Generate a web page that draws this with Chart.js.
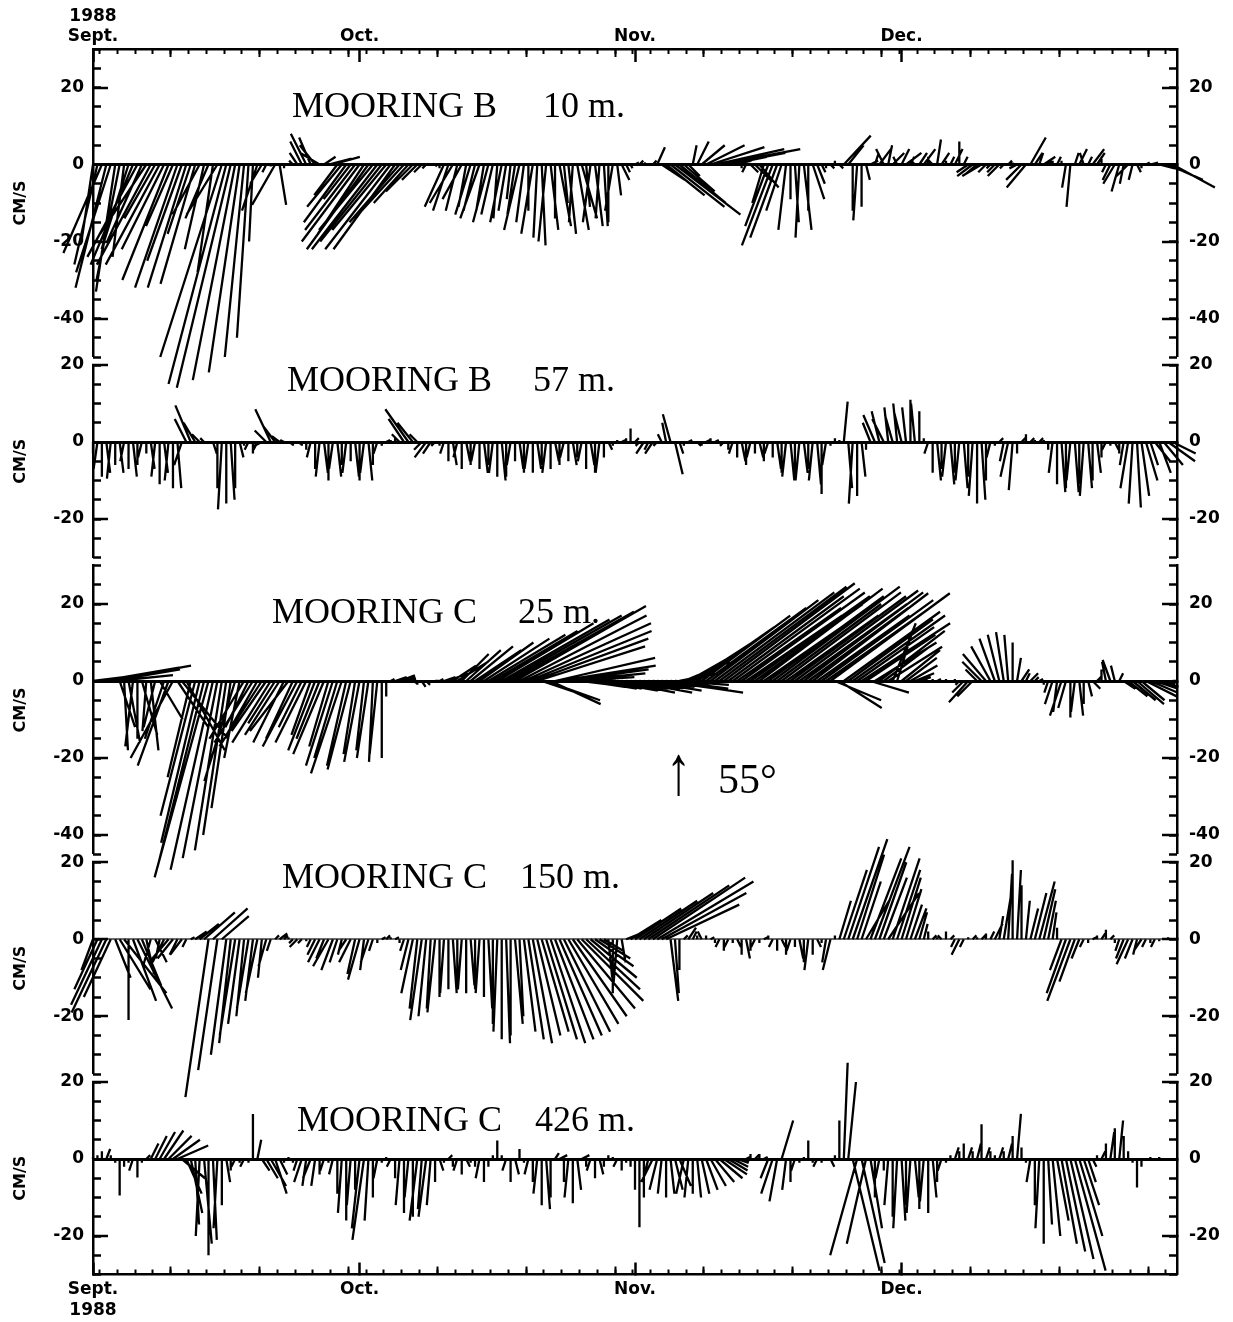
<!DOCTYPE html>
<html>
<head>
<meta charset="utf-8">
<script src="https://cdn.jsdelivr.net/npm/chart.js@4.4.1/dist/chart.umd.min.js"></script>
<style>
  html, body { margin: 0; padding: 0; background: #fff; }
  #wrap { position: relative; width: 1233px; height: 1322px; background: #fff; }
  #wrap canvas { position: absolute; left: 0; top: 0; }
</style>
</head>
<body>
<div id="wrap"></div>
<script>
// ---------------------------------------------------------------------------
// Current-meter stick plots, Sept.-Dec. 1988 (axes rotated so "up" = 55 deg).
// Each pair is [u, v] in cm/s, one stick every SAMPLE_STEP days from 1 Sept.
// ---------------------------------------------------------------------------
const SAMPLE_STEP = 0.5;
const DAY_SPAN = 122;                       // 1 Sept. -> 1 Jan.
const MONTH_DAYS = [0, 30, 61, 91];
const MONTH_LABELS_TOP = [['1988', 'Sept.'], 'Oct.', 'Nov.', 'Dec.'];
const MONTH_LABELS_BOTTOM = [['Sept.', '1988'], 'Oct.', 'Nov.', 'Dec.'];

const STATIONS = ['MOORING B', 'MOORING B', 'MOORING C', 'MOORING C', 'MOORING C'];
const DEPTHS = ['10 m.', '57 m.', '25 m.', '150 m.', '426 m.'];
const Y_MIN = [-50, -30, -45, -35, -30];
const Y_MAX = [30, 20, 30, 20, 20];
const Y_TICKS = [[20, 0, -20, -40], [20, 0, -20], [20, 0, -20, -40], [20, 0, -20], [20, 0, -20]];

const B_10M = [
  [-3,-20],[-6,-26],[-10,-23],[-8,-32],[-9,-28],[-5,-33],[-6,-30],[-3,-24],[-7,-22],[-11,-26],
  [-13,-24],[-9,-20],[-12,-18],[-14,-26],[-8,-14],[-14,-26],[-11,-22],[-12,-30],[-7,-16],[-11,-32],
  [-9,-25],[-10,-32],[-6,-18],[-9,-31],[-7,-13],[-5,-22],[-6,-14],[-4,-28],[-8,-13],[-16,-50],
  [-15,-57],[-14,-58],[-11,-56],[-8,-54],[-5,-50],[-3,-45],[-1,-20],[-4,-12],[-3,-5],[-1,-2],
  [0,-0.5],[-6,-10.5],[1.7,-10.5],[0,-1],[1,0],[-1,1],[-2,3],[-3,6],[-4,8],[-3,7],
  [-4,5],[-5,3],[3,2],[6,1.5],[7,2],[-6,-8],[-9,-11],[-11,-15],[-7,-9],[-13,-17],
  [-15,-20],[-12,-18],[-16,-22],[-14,-17],[-17,-22],[-16,-20],[-14,-17],[-17,-22],[-16,-22],[-13,-15],
  [-11,-12],[-9,-10],[-7,-7],[-4,-4],[-2,-2],[-1,-1],[0,0],[0.5,-0.5],[0,-1],[-5,-11],
  [-4,-12],[-6,-10],[-3,-12],[-5,-9],[-2,-11],[-4,-13],[-3,-12],[-5,-14],[-2,-12],[-4,-15],
  [-3,-13],[-1,-14],[-3,-15],[-2,-12],[-1,-9],[-2,-13],[-4,-17],[-2,-15],[0,-12],[-3,-18],
  [-1,-19],[1,-21],[-2,-20],[2,-17],[0,-14],[3,-16],[1,-10],[2,-18],[-1,-15],[3,-17],
  [4,-14],[1,-11],[-2,-15],[2,-16],[-1,-14],[1,-16],[0,-15],[-2,-12],[1,-8],[2,-4],
  [1,-2],[0.5,-1],[1,0.5],[1,1],[0.5,0.5],[0,0],[1,1],[2,4.5],[6,-4],[10,-8],
  [14,-11],[17,-13],[12,-10],[8,-7],[3,-3],[1,5],[3,6],[6,5],[10,5],[14,4.5],
  [18,4],[21,4],[16,3],[10,2],[5,1],[2,0.5],[0,-1],[-1,-2],[2,-2],[4,-4],
  [5,-6],[-3,-10],[-6,-16],[-8,-21],[-7,-19],[-4,-12],[-2,-17],[0,-9],[1,-15],[-1,-19],
  [2,-17],[0,-12],[3,-9],[2,-5],[1,-2],[0,-1],[1,-1],[0,1],[1,-1],[7,7.5],
  [4,5],[0,-12],[-1,-14.5],[0,-11],[1,-4],[2,1],[1,3],[3,4],[-2,4],[1,5],
  [3,3],[-1,2],[2,4],[4,3],[1,2],[-1,1],[2,3],[3,4],[0,2],[-1,1],
  [1,6.5],[2,3],[0,1],[1,2],[2,4],[0,6],[1,2],[-3,-2],[-4,-3],[-3,-2.5],
  [-5,-3],[-2,-2],[-1,-1],[-2,-2],[-3,-3],[-1,-1],[1,1],[0,0.5],[-2,-1],[-4,-4],
  [-5,-6],[4,7],[2,3],[1,3],[3,2],[1,1],[0,1],[1,2],[0,1],[-1,-6],
  [-1,-11],[1,3],[2,4],[-1,3],[1,2],[3,4],[2,3],[0,2],[-1,-2],[-2,-4],
  [-3,-5],[-2,-7],[-1,-5],[-3,-3],[-1,-4],[1,-2],[0,-1],[1,0.5],[2,0.5],[1,0],
  [4,-1],[6,-2],[9,-4],[11,-6]
];

const B_57M = [
  [0,-3],[-1,-7],[0,-9],[1,-8],[-1,-9.5],[0,-6],[1,-8],[-1,-5],[0,-7],[1,-9],
  [0,-6],[-1,-4],[0,-3],[1,-7],[-1,-9],[0,-11],[1,-8],[-1,-10],[0,-12],[1,-12],
  [-2,-6],[-3,6],[-4,9.5],[-3,5],[-2,2],[-1,1],[0,-0.5],[1,-3],[0,-12],[-1,-17.5],
  [0,-16],[1,-15],[0,-12],[1,-4],[0,-1],[-1,-2],[0,-3],[-1,-2],[-2,-1],[-3,3],
  [-4,8.5],[-3,4],[-2,1.5],[-1,0.5],[1,-0.5],[0,-1],[1,-0.5],[0,-1],[0,-2],[-1,-4],
  [0,-7],[-1,-9],[1,-8],[0,-10],[-1,-7],[1,-9],[0,-6],[-1,-8],[0,-5],[1,-9],
  [0,-10],[-1,-8],[1,-10],[0,-6],[-1,-3],[0,-1],[1,0.5],[0,0.5],[0,1],[-2,2],
  [-4,6],[-6,8.5],[-4,5],[-2,2],[-2,-2],[-3,-4],[-2,-3],[-1,-1],[0,-1],[-1,-3],
  [0,-5],[1,-6],[-1,-4],[0,-7],[1,-5],[0,-6],[-1,-5],[0,-7],[1,-8],[0,-6],
  [-1,-8],[0,-9],[1,-10],[0,-9],[-1,-6],[0,-5],[1,-7],[0,-8],[-1,-7],[0,-8],
  [1,-7],[0,-6],[-1,-8],[0,-7],[1,-5],[0,-6],[-1,-4],[0,-5],[1,-6],[0,-4],
  [-1,-5],[0,-7],[1,-6],[0,-8],[-1,-8],[0,-4],[1,-2],[0,-1],[0,0.5],[1,0.5],
  [0,1],[0,3.5],[1,1],[-1,-1],[-2,-3],[-1,-2],[-2,-3],[-1,-1],[-1,2],[-1,5],
  [-2,7.2],[2,-8.4],[1,-3],[0,-1],[1,0.5],[0,-0.5],[1,-1],[0,-1],[1,0.5],[0,1],
  [1,0.5],[0,-0.5],[-1,-1],[0,-2],[-1,-3],[0,-4],[1,-5],[0,-6],[-1,-4],[0,-3],
  [1,-4],[0,-5],[-1,-3],[0,-4],[1,-7],[0,-8],[-1,-9],[1,-10],[0,-9],[-1,-10],
  [1,-8],[0,-7],[-1,-10],[1,-11],[0,-13.5],[-1,-6],[0,-1],[0,1],[0,0.5],[1,10.5],
  [1,-12],[-1,-16],[0,-14],[1,-9],[0,-2],[-2,5],[-3,7],[-2,8],[-3,6],[-1,9],
  [-2,7],[-1,10],[-2,8],[-1,9],[0,11],[-1,10],[0,8],[0,1],[-1,-3],[0,-8],
  [1,-10],[0,-7],[-1,-9],[1,-11],[0,-8],[-1,-10],[1,-12],[0,-9],[-1,-14],[0,-16],
  [1,-15],[0,-10],[-1,-4],[0,-1],[1,1],[-1,-5],[-2,-9],[-1,-12.5],[0,-3],[1,1],
  [0,2],[1,1],[0,0.5],[1,1],[0,0.5],[0,-2],[-1,-8],[0,-11],[1,-13],[0,-12],
  [-1,-10],[1,-13],[0,-11],[-1,-14],[1,-12],[0,-10],[1,-8],[0,-4],[-1,-2],[0,-1],
  [1,-2],[0,-3],[-1,-6],[-2,-12],[-1,-16],[1,-17],[2,-14],[3,-10],[2,-6],[4,-5],
  [3,-8],[5,-6],[7,-5],[6,-3]
];

const C_25M = [
  [8,1],[14,2],[20,3.5],[22,4],[18,3],[15,1.5],[4,-12],[1,-18],[3,-16],[-2,-17],
  [0,-15],[4,-14],[-1,-13],[2,-18],[-3,-12],[6,-10],[-5,-15],[-8,-22],[-11,-20],[8,-12],
  [12,-15],[10,-18],[-6,-25],[-9,-35],[-10,-42],[-12,-48],[-14,-51],[-11,-49],[-9,-46],[-7,-44],
  [-6,-40],[-5,-33],[-8,-26],[-4,-20],[-9,-15],[-6,-12],[-10,-16],[-8,-14],[-11,-17],[-9,-13],
  [-10,-16],[-7,-11],[-9,-14],[-8,-16],[-10,-13],[-7,-15],[-9,-17],[-6,-12],[-8,-16],[-5,-14],
  [-7,-18],[-6,-15],[-8,-19],[-5,-17],[-7,-22],[-6,-20],[-8,-24],[-5,-22],[-6,-23],[-3,-19],
  [-4,-21],[-2,-18],[-3,-20],[-1,-21],[-2,-19],[0,-20],[0,-4],[1,0.5],[3,1],[4,1.5],
  [3,1],[2,0.5],[1,-0.5],[0,-1],[1,-1.5],[1,-1],[0,-0.5],[1,0],[1,0.5],[3,1],
  [5,2],[6,4],[8,5],[7,7],[9,8],[11,9],[12,8],[14,10],[17,11],[20,12],
  [22,13],[25,15],[28,16],[30,17],[32,18],[34,19.5],[33,17],[33,15],[32,13],[30,11],
  [28,9],[12,-4],[14,-5],[13,-6],[26,6],[25,4],[22,3],[20,2],[16,1],[10,0.5],
  [8,-1],[10,-1.5],[12,-2],[9,-1],[11,-2],[14,-2.5],[10,-1.5],[13,-2],[15,-3],[12,-2],
  [14,-2],[16,-3],[11,-1.5],[13,-2],[15,-2.5],[12,-1.5],[12,-1],[16,-2],[18,-2.5],[20,-3],
  [15,-2],[14,-1],[10,2],[12,5],[14,8],[17,11],[20,14],[23,17],[26,19],[28,21],
  [31,23],[33,24.5],[34,25.4],[30,22],[33,24],[27,19],[32,23],[25,17],[31,22],[28,20],
  [32,24],[26,18],[30,22],[33,24.5],[27,20],[31,23],[24,17],[30,22],[32,23.5],[28,20],
  [31,23],[26,19],[30,22.8],[24,17],[29,21],[27,19],[31,22.8],[12,-5],[11,-7],[25,18],
  [22,16],[24,17],[20,14],[23,15],[18,12],[10,-3],[16,10],[17,13],[12,9],[14,8.9],
  [6,15],[4,13],[10,8],[8,6],[7,4],[5,2],[3,1],[1,0.5],[0,0],[0,0.5],
  [1,0.5],[0,-0.5],[0,0.5],[0,0],[0,0.5],[-1,-1],[-3,-3],[-5,-5.5],[-4,-4],[-3,3],
  [-5,5],[-6,7],[-5,9],[-4,11],[-3,12],[-2,12.7],[-1,12],[0,10],[1,6],[2,3],
  [1,2],[2,2],[1,1],[1,0.5],[0,-1],[-1,-3],[-2,-6],[-1,-8],[-3,-9],[-2,-7],
  [0,-9.5],[-1,-8],[1,-9],[0,-6],[1,-4],[2,-2],[1,1],[0,3],[-1,5],[-2,5.5],
  [-1,4],[1,2],[3,-2],[5,-4],[6,-5],[7,-6],[6,-5],[8,-4],[7,-3],[6,-2],
  [5,-1.5],[3,-1],[2,-0.5],[1,0]
];

const C_150M = [
  [-3,-8],[-6,-13],[-8,-17],[-9,-19],[-7,-15],[4,-10],[8,-13],[11,-14],[0,-21],[6,-16],
  [9,-18],[5,-12],[2,-9],[-2,-7],[3,-6],[-1,-5],[-3,-6],[-5,-6],[-4,-5],[-2,-4],
  [-3,-4],[-1,-2],[1,0.5],[3,2],[5,4],[8,7],[-6,-41],[9,8],[-5,-34],[7,6],
  [-4,-30],[-3,-27],[-4,-25],[-3,-22],[-2,-20],[-3,-18],[-2,-16],[-3,-14],[-1,-10],[-2,-7],
  [-1,-3],[1,1],[2,1.5],[1,1],[0,0.5],[-1,-1],[-2,-2],[-1,-1],[0,-0.5],[-1,-2],
  [-2,-4],[-3,-6],[-2,-5],[-4,-7],[-3,-8],[-2,-6],[-1,-4],[-2,-3],[-3,-6],[-2,-9],
  [-3,-10.5],[-1,-8],[-2,-6],[-1,-3],[0,-1],[1,0.5],[1,1],[0,0.5],[1,0.5],[0,-1],
  [-1,-3],[-2,-8],[-3,-14],[-2,-18],[-3,-21],[-2,-20],[-1,-18],[-2,-19],[0,-15],[-1,-14],
  [0,-13],[1,-14],[0,-12],[-1,-13],[0,-14],[1,-12],[0,-13],[-1,-14],[0,-15],[1,-18],
  [0,-22],[-1,-24],[0,-26],[1,-27],[0,-25],[2,-22],[1,-20],[3,-24],[4,-26],[5,-27],
  [6,-25],[7,-24],[8,-26],[9,-27],[10,-26],[11,-25],[12,-24],[13,-22],[14,-20],[15,-18],
  [16,-16],[14,-13],[12,-10],[10,-7],[8,-5],[5,-3],[1,-10],[0,-14],[-1,-12],[1,-6],
  [5,2],[8,5],[12,8],[15,10],[18,12],[21,14],[24,16],[25,15],[22,12],[19,9],
  [2,-16],[1,-14],[0,-8],[1,1],[2,3],[1,2],[0,1],[-1,2],[0,1],[1,0.5],
  [0,-1],[-1,-2],[0,-3],[-1,-2],[0,-1],[1,-2],[0,-4],[1,-5],[0,-3],[-1,-2],
  [0,-1],[1,0.5],[0,1],[-1,-2],[0,-3],[1,-2],[0,-4],[-1,-3],[0,-2],[1,-5],
  [0,-6],[-1,-8],[0,-4],[1,-2],[0,-1],[-1,-6],[-2,-8],[0,1],[3,10],[6,18],
  [8,24],[9,26],[7,22],[5,15],[6,10],[8,21],[9,24],[7,20],[6,16],[8,12],
  [7,21],[6,18],[5,16],[4,13],[3,9],[3,8],[2,7],[1,4],[0,2],[1,1],
  [0,0.5],[-1,1],[0,2],[1,1],[-1,-2],[-2,-4],[-1,-2],[0,0.5],[1,1],[0,0.5],
  [1,1],[0,1.5],[1,2],[2,4],[1,6],[2,12],[1,17],[0,20.5],[1,18],[0,14],
  [1,10],[2,8],[3,12],[4,15],[3,13],[2,10],[1,7],[0,3],[-3,-8],[-5,-14],
  [-6,-16],[-4,-11],[-2,-5],[-1,-2],[0,-1],[1,0.5],[0,1],[1,1.5],[0,2.5],[1,1],
  [0,-1],[-1,-3],[-2,-5],[-3,-6.5],[-2,-5],[-1,-4],[-2,-3],[-1,-2],[0,-1],[-1,-2],
  [0,-0.5],[0,0],[0,0.5],[0,0]
];

const C_426M = [
  [0,0.5],[0,1],[0,2],[1,2.6],[0,1],[0,-1],[0,-9.5],[0,-2],[0,-1],[-1,-3],
  [0,-4.8],[0,-1],[1,1],[2,4],[3,6],[4,7],[5,7.4],[6,6],[7,5],[8,3.5],
  [6,-5],[4,-9],[3,-14],[1,-17],[-1,-20],[2,-22],[0,-25],[1,-21],[-1,-18],[0,-12],
  [1,-6],[0,-3],[-1,-2],[0,-1],[-1,-2],[0,-1],[0,11.7],[1,5],[2,-3],[3,-5],
  [4,-7],[3,-9],[2,-4],[0,-1],[0,0.5],[0,-1],[-1,-3],[-2,-6],[-1,-7],[-2,-5],
  [-1,-7],[0,-4],[-1,-3],[0,-1],[-1,-4],[0,-9],[-1,-14],[0,-16],[-1,-12],[0,-8],
  [-2,-18],[-3,-21],[-1,-16],[0,-10],[-1,-5],[0,-1],[0,0.5],[-1,-2],[0,-5],[-1,-12],
  [0,-14],[-1,-10],[0,-15],[-2,-16],[-1,-13],[-2,-15],[-1,-12],[0,-6],[1,-3],[0,-1],
  [1,1],[0,-2],[-1,-3],[0,-4],[1,-2],[0,-1],[0,-2],[-1,-5],[0,-6],[0,-2],
  [0,1],[0,4.8],[0,1],[-1,-3],[0,-6],[1,-4],[0,2.6],[0,-1],[-1,-4],[0,-6],
  [-1,-9],[0,-12],[1,-13],[0,-10],[1,1.5],[2,1],[0,-6],[-1,-10],[0,-11.5],[1,-8],
  [2,1],[0,-2],[-1,-3],[0,-5],[1,-4],[0,-2],[0,1],[0,0.5],[-1,-2],[0,-3],
  [0,-1],[0,-2],[0,-8],[0,-17.7],[0,-10],[-1,-4],[-3,-6],[-2,-8],[-1,-9],[0,-10],
  [1,-9],[2,-8],[3,-7],[-2,-9],[-1,-10],[0,-9],[1,-10],[2,-9],[3,-8],[4,-7],
  [5,-6],[6,-5],[6,-4],[5,-3],[4,-2],[3,-1],[2,-0.5],[1,0.5],[0,1.3],[1,1],
  [0,1.3],[1,0.5],[-2,-5],[-3,-9],[-2,-11],[3,10],[-1,-8],[0,-6],[-1,-3],[0,-1],
  [0,0.5],[0,4.8],[0,-1],[-1,-2],[0,-1],[0,-0.5],[1,-2],[0,1],[0,10],[1,25],
  [2,20],[7,-29],[-7,-25],[6,-27],[-5,-22],[3,-18],[0,-10],[-1,-5],[0,-3],[-1,-12],
  [0,-15],[-1,-18],[1,-16],[0,-12],[-1,-14],[1,-10],[0,-13],[-1,-11],[0,-14],[1,-10],
  [0,-6],[-1,-3],[0,-1],[0,1],[1,3],[0,2],[0,4],[1,3],[0,2],[1,4],
  [0,9],[1,3],[0,2],[0,1],[1,3],[0,2],[1,4],[0,6],[1,11.7],[0,3],
  [0,-1],[-1,-6],[0,-12],[-1,-18],[0,-22],[1,-17],[2,-20],[3,-16],[4,-22],[5,-24],
  [6,-26],[8,-29],[6,-20],[4,-12],[2,-6],[1,-2],[0,1],[1,2],[0,4],[1,7],
  [0,8],[1,10],[0,6],[0,2],[0,-1],[0,-7.4],[0,-2],[0,-0.5],[0,0.5],[0,0],
  [0,0.5],[0,0],[0,0],[0,0]
];

const SERIES = [B_10M, B_57M, C_25M, C_150M, C_426M];

// ---------------------------------------------------------------------------
// Page layout (pixels)
// ---------------------------------------------------------------------------
const PAGE_W = 1233, PAGE_H = 1322;
const PLOT_LEFT = 93, PLOT_RIGHT = 1177;
const FRAME_TOP = 49;
const PX_PER_CMS = 3.85;      // vertical scale, same horizontally for the sticks
const PANEL_GAP = 8;
const DAYS_PER_CMS = PX_PER_CMS / ((PLOT_RIGHT - PLOT_LEFT) / DAY_SPAN);

const TITLE_POS = [
  { sx: 292, dx: 543, y: 117 },
  { sx: 287, dx: 533, y: 391 },
  { sx: 272, dx: 518, y: 623 },
  { sx: 282, dx: 520, y: 888 },
  { sx: 297, dx: 535, y: 1131 }
];

const AXIS_FONT = { family: 'DejaVu Sans', size: 17, weight: 'bold', lineHeight: 1.2 };
const TITLE_FONT = '36px "Liberation Serif"';

const tops = [];
let cursor = FRAME_TOP;
for (let i = 0; i < 5; i++) {
  tops.push(cursor);
  cursor += (Y_MAX[i] - Y_MIN[i]) * PX_PER_CMS + PANEL_GAP;
}

function stickPoints(pairs) {
  const pts = [];
  pairs.forEach(([u, v], i) => {
    const t = i * SAMPLE_STEP;
    pts.push({ x: t, y: 0 }, { x: t + u * DAYS_PER_CMS, y: v }, { x: t, y: null });
  });
  return pts;
}

const minorDayTicks = [];
for (let d = 0.75; d < DAY_SPAN; d += 2) minorDayTicks.push(d);
const midDayTicks = [];
for (let d = 8.75; d < DAY_SPAN; d += 10) midDayTicks.push(d);

const textLayer = {
  id: 'textLayer',
  beforeDatasetsDraw(chart, args, opts) {
    const ctx = chart.ctx;
    ctx.save();
    ctx.fillStyle = '#000';
    ctx.textBaseline = 'alphabetic';
    ctx.textAlign = 'left';
    for (const item of opts.items) {
      ctx.save();
      ctx.font = item.font;
      ctx.translate(item.x, item.y);
      ctx.scale(item.sx || 1, 1);
      ctx.fillText(item.text, 0, 0);
      ctx.restore();
    }
    ctx.restore();
  }
};

function xAxis(pos, ticks, len, width, weight, labels, band, pad) {
  return {
    type: 'linear', position: pos, min: 0, max: DAY_SPAN, weight,
    afterBuildTicks: s => { s.ticks = ticks.map(v => ({ value: v })); },
    afterFit: s => { s.height = band; },
    ticks: labels ? {
      display: true, autoSkip: false, maxRotation: 0, minRotation: 0,
      padding: pad, color: '#000', font: AXIS_FONT,
      callback: (v, idx) => labels[idx]
    } : { display: false },
    grid: { display: true, drawOnChartArea: false, drawTicks: true,
            tickLength: -len, tickWidth: width, tickColor: '#000' },
    border: { display: !!labels, width: 2.5, color: '#000' }
  };
}

function yAxis(i, pos, major) {
  const isLeft = pos === 'left';
  const base = {
    type: 'linear', position: pos, min: Y_MIN[i], max: Y_MAX[i],
    weight: major ? 1 : 0
  };
  if (major) {
    const zeroColor = i === 3 ? '#6d6d6d' : '#000';
    return Object.assign(base, {
      afterBuildTicks: s => { s.ticks = Y_TICKS[i].map(v => ({ value: v })); },
      afterFit: s => { s.width = isLeft ? PLOT_LEFT : PAGE_W - PLOT_RIGHT; },
      ticks: { color: '#000', font: AXIS_FONT, padding: isLeft ? 24 : 27,
               callback: v => String(v) },
      title: isLeft ? { display: true, text: 'CM/S', color: '#000',
                        font: { family: 'DejaVu Sans', size: 16, weight: 'bold', lineHeight: 1.2 },
                        padding: { top: 11, bottom: 0 } } : { display: false },
      grid: {
        display: true,
        drawOnChartArea: isLeft,
        color: c => (c.tick && c.tick.value === 0) ? zeroColor : 'rgba(0,0,0,0)',
        lineWidth: c => (c.tick && c.tick.value === 0) ? (i === 3 ? 2 : 3) : 0,
        drawTicks: true, tickLength: -15, tickWidth: 2.5, tickColor: '#000'
      },
      border: { display: true, width: 2.5, color: '#000' }
    });
  }
  const minor = [];
  for (let v = Y_MIN[i]; v <= Y_MAX[i]; v += 5) minor.push(v);
  return Object.assign(base, {
    afterBuildTicks: s => { s.ticks = minor.map(v => ({ value: v })); },
    afterFit: s => { s.width = 0; },
    ticks: { display: false },
    grid: { display: true, drawOnChartArea: false, drawTicks: true,
            tickLength: -8, tickWidth: 2.5, tickColor: '#000' },
    border: { display: false }
  });
}

const wrap = document.getElementById('wrap');

for (let i = 0; i < 5; i++) {
  const top = tops[i];
  const bottom = top + (Y_MAX[i] - Y_MIN[i]) * PX_PER_CMS;
  const first = i === 0, last = i === 4;

  const canvas = document.createElement('canvas');
  canvas.width = PAGE_W; canvas.height = PAGE_H;
  canvas.style.width = PAGE_W + 'px'; canvas.style.height = PAGE_H + 'px';
  wrap.appendChild(canvas);

  const scales = {
    y: yAxis(i, 'left', true),
    yMinorL: yAxis(i, 'left', false),
    yR: yAxis(i, 'right', true),
    yMinorR: yAxis(i, 'right', false)
  };

  if (first) {
    scales.x = xAxis('top', MONTH_DAYS, 13, 2.5, 2, MONTH_LABELS_TOP, top, 15);
    scales.xMid = xAxis('top', midDayTicks, 8, 2, 1, null, 0, 0);
    scales.xMinor = xAxis('top', minorDayTicks, 5, 2, 0, null, 0, 0);
  } else if (last) {
    scales.x = xAxis('bottom', MONTH_DAYS, 12, 2.5, 2, MONTH_LABELS_BOTTOM, PAGE_H - bottom, 17);
    scales.xMid = xAxis('bottom', midDayTicks, 8, 2, 1, null, 0, 0);
    scales.xMinor = xAxis('bottom', minorDayTicks, 5, 2, 0, null, 0, 0);
  } else {
    scales.x = { type: 'linear', min: 0, max: DAY_SPAN, display: false };
  }

  const items = [
    { text: STATIONS[i], x: TITLE_POS[i].sx, y: TITLE_POS[i].y, font: TITLE_FONT },
    { text: DEPTHS[i], x: TITLE_POS[i].dx, y: TITLE_POS[i].y, font: TITLE_FONT }
  ];
  if (i === 2) {
    items.push({ text: '\u2191', x: 666, y: 794, font: '70px "Liberation Serif"', sx: 0.72 });
    items.push({ text: '55\u00b0', x: 718, y: 793, font: '42px "Liberation Serif"' });
  }

  new Chart(canvas, {
    type: 'line',
    data: {
      datasets: [{
        data: stickPoints(SERIES[i]),
        xAxisID: 'x', yAxisID: 'y',
        borderColor: '#000', borderWidth: 2.3,
        pointRadius: 0, pointHoverRadius: 0,
        tension: 0, spanGaps: false, fill: false, clip: false
      }]
    },
    options: {
      responsive: false,
      animation: false,
      events: [],
      layout: { padding: {
        left: 0, right: 0,
        top: first ? 0 : top,
        bottom: last ? 0 : PAGE_H - bottom
      } },
      plugins: {
        legend: { display: false },
        tooltip: { enabled: false },
        textLayer: { items }
      },
      scales
    },
    plugins: [textLayer]
  });
}
</script>
</body>
</html>
